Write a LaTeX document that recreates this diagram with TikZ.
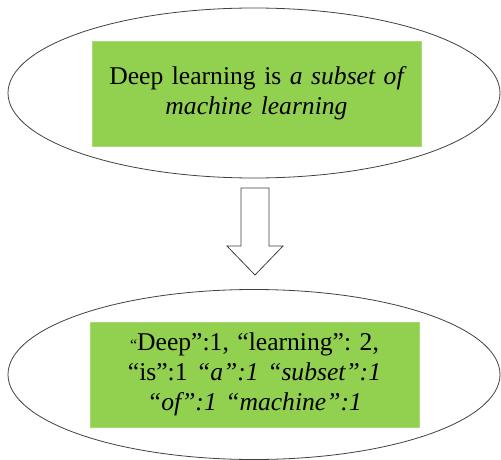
\documentclass[tikz,border=0pt]{standalone}
\usepackage{fontspec}
\setmainfont{Liberation Serif}
\usetikzlibrary{shapes.geometric}
\definecolor{leafgreen}{HTML}{92D050}
\newcommand\boxfont{\fontsize{25.6pt}{30pt}\selectfont\frenchspacing}
\tikzset{
  bubble/.style={draw=black!75,ellipse,line width=0.8pt,minimum width=492pt,minimum height=170pt,inner sep=0pt},
  greenbox/.style={fill=leafgreen,draw=leafgreen!80!white,minimum width=329pt,minimum height=105pt,text width=325pt,align=center,inner sep=0pt,font=\boxfont},
  blockarrow/.style={draw=black!75,line width=0.8pt,fill=white}
}
\begin{document}
\begin{tikzpicture}[x=1pt,y=-1pt]
  \useasboundingbox (0,0) rectangle (501,460);
  % sentence
  \node[bubble] (sentence) at (254,93) {};
  \node[greenbox] (sentencebox) at (256.5,93.5) {Deep learning is \textit{a subset of\\ machine learning}};
  % word counts
  \node[bubble] (counts) at (254,374.5) {};
  \node[greenbox] (countsbox) at (254.5,374.5) {{\fontsize{16pt}{16pt}\selectfont “}Deep”:1, “learning”: 2,\\
    “is”:1 \textit{“a”:1 “subset”:1}\\
    \textit{“of”:1 “machine”:1}};
  % arrow
  \draw[blockarrow] (241,188) -- (269,188) -- (269,246) -- (283,246) -- (255,275)
    -- (227,246) -- (241,246) -- cycle;
\end{tikzpicture}
\end{document}
